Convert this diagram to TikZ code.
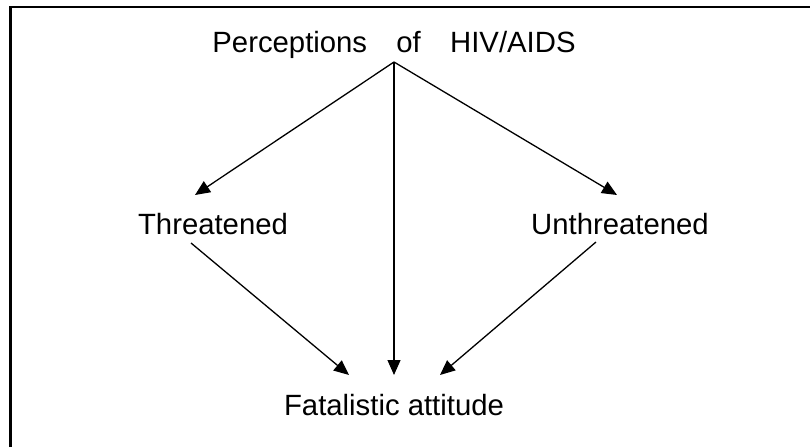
\documentclass[tikz,border=0pt]{standalone}
\usepackage{fontspec}
\setmainfont{Liberation Sans}
\usetikzlibrary{arrows.meta}

\begin{document}
\begin{tikzpicture}[
      x=1pt, y=1pt,
      lbl/.style={inner sep=0pt, anchor=base, font=\fontsize{29.3}{35}\selectfont},
      arr/.style={-{Triangle[length=15pt, width=13pt]}, line width=1.3pt}
    ]
    \useasboundingbox (0,0) rectangle (810,447);
    \draw[line width=2.2pt] (10.5,0) -- (10.5,440) -- (810,440);
    \node[lbl] (per) at (394,394) {Perceptions\hspace{1em}of\hspace{1em}HIV/AIDS};
    \coordinate (top) at ([yshift=-9pt]per.base);
    \node[lbl] (thr) at (213,212) {Threatened};
    \node[lbl] (unt) at (620,212) {Unthreatened};
    \node[lbl] (fat) at (394,32) {Fatalistic attitude};
    \draw[arr] (top) -- ([shift={(-18,40)}]thr.base);
    \draw[arr] (top) -- ([shift={(-3,40)}]unt.base);
    \draw[arr] (top) -- ([yshift=40pt]fat.base);
    \draw[arr] ([shift={(-22,-8)}]thr.base) -- ([shift={(-45,40)}]fat.base);
    \draw[arr] ([shift={(-24,-7)}]unt.base) -- ([shift={(46,40)}]fat.base);
  \end{tikzpicture}
\end{document}
